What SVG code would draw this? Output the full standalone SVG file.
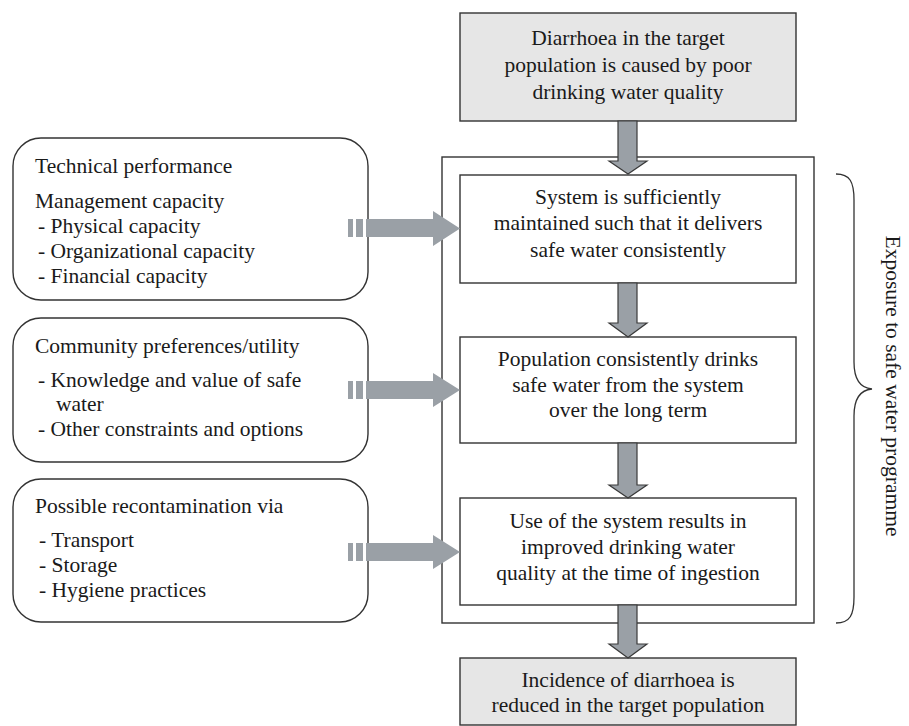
<svg xmlns="http://www.w3.org/2000/svg" width="909" height="726" viewBox="0 0 909 726">
<style>
text{font-family:'Liberation Serif','Times New Roman','DejaVu Serif',serif;font-size:21.5px;fill:#1a1a1a}
.c{text-anchor:middle}
.box{fill:#fff;stroke:#333;stroke-width:1.4}
.grey{fill:#e6e6e6;stroke:#333;stroke-width:1.4}
.rbox{fill:#fff;stroke:#333;stroke-width:1.4}
.va{fill:#9aa0a6;stroke:#3a3a3a;stroke-width:1.2}
.ha{fill:#9aa0a6;stroke:none}
</style>
<rect width="909" height="726" fill="#fff"/>
<g id="container"><rect x="442" y="157" width="372" height="466" fill="none" stroke="#333" stroke-width="1.4"/></g>
<g id="top"><rect class="grey" x="460" y="13" width="336" height="108"/>
<text class="c" x="628" y="45" font-family="Liberation Serif, DejaVu Serif, serif">Diarrhoea in the target</text>
<text class="c" x="628" y="72">population is caused by poor</text>
<text class="c" x="628" y="99">drinking water quality</text></g>
<g id="box1"><rect class="box" x="460" y="175" width="336" height="108"/>
<text class="c" x="628" y="204">System is sufficiently</text>
<text class="c" x="628" y="230">maintained such that it delivers</text>
<text class="c" x="628" y="257">safe water consistently</text></g>
<g id="box2"><rect class="box" x="460" y="337" width="336" height="106"/>
<text class="c" x="628" y="366">Population consistently drinks</text>
<text class="c" x="628" y="392">safe water from the system</text>
<text class="c" x="628" y="417">over the long term</text></g>
<g id="box3"><rect class="box" x="460" y="498" width="336" height="107"/>
<text class="c" x="628" y="528">Use of the system results in</text>
<text class="c" x="628" y="554">improved drinking water</text>
<text class="c" x="628" y="580">quality at the time of ingestion</text></g>
<g id="bottom"><rect class="grey" x="460" y="658" width="336" height="67"/>
<text class="c" x="628" y="687">Incidence of diarrhoea is</text>
<text class="c" x="628" y="712">reduced in the target population</text></g>
<g id="leftA"><rect class="rbox" x="13" y="138" width="355" height="162" rx="28"/>
<text x="35" y="173">Technical performance</text>
<text x="35" y="208">Management capacity</text>
<text x="38" y="233">- Physical capacity</text>
<text x="38" y="258">- Organizational capacity</text>
<text x="38" y="283">- Financial capacity</text></g>
<g id="leftB"><rect class="rbox" x="13" y="318" width="355" height="144" rx="28"/>
<text x="35" y="353">Community preferences/utility</text>
<text x="38" y="387">- Knowledge and value of safe</text>
<text x="56" y="411">water</text>
<text x="38" y="436">- Other constraints and options</text></g>
<g id="leftC"><rect class="rbox" x="13" y="479" width="355" height="143" rx="28"/>
<text x="35" y="513">Possible recontamination via</text>
<text x="39" y="547">- Transport</text>
<text x="39" y="572">- Storage</text>
<text x="39" y="597">- Hygiene practices</text></g>
<g id="brace"><path d="M836,174 C850,174 854,182 854,200 L854,362 C854,380 860,388 872,389 C860,390 854,398 854,416 L854,597 C854,615 850,623 836,623" fill="none" stroke="#333" stroke-width="1.3"/>
<text class="c" transform="translate(886,386) rotate(90)">Exposure to safe water programme</text></g>
<g id="connectors">
<polygon class="va" points="618,121 637,121 637,161 647,161 628,174 609,161 618,161"/>
<polygon class="va" points="618,283 637,283 637,323 647,323 628,337 609,323 618,323"/>
<polygon class="va" points="618,443 637,443 637,485 647,485 628,498 609,485 618,485"/>
<polygon class="va" points="618,605 637,605 637,644 647,644 628,658 609,644 618,644"/>
<g class="ha">
<rect x="348" y="219" width="5" height="18"/><rect x="356" y="219" width="7" height="18"/>
<polygon points="366,219 433,219 433,211 460,228.5 433,246 433,237 366,237"/>
<rect x="348" y="381" width="5" height="18"/><rect x="356" y="381" width="7" height="18"/>
<polygon points="366,381 433,381 433,373 460,390 433,407 433,399 366,399"/>
<rect x="348" y="543" width="5" height="18"/><rect x="356" y="543" width="7" height="18"/>
<polygon points="366,543 433,543 433,535 460,552 433,569 433,561 366,561"/>
</g></g>
</svg>
